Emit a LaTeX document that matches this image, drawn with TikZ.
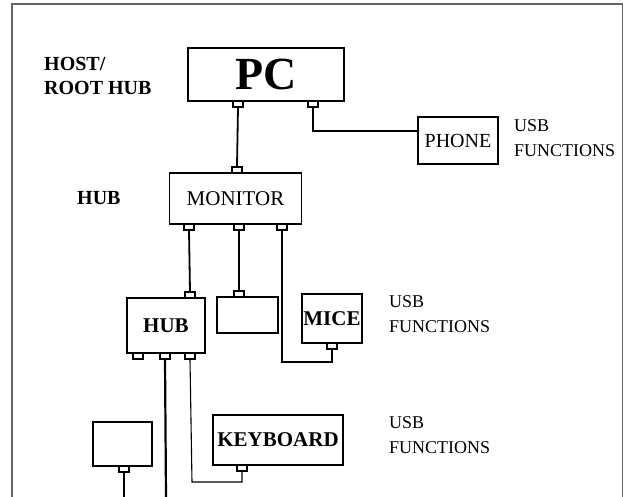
\documentclass[tikz,border=0pt]{standalone}
\usepackage{fontspec}
\setmainfont{Liberation Serif}
\usepackage{tikz}

\begin{document}
\begin{tikzpicture}[x=1pt, y=-1pt, line width=1.8pt,
    box/.style={draw, fill=white, inner sep=0pt, line width=1.9pt},
    port/.style={draw, fill=white, inner sep=0pt, minimum width=10pt, minimum height=6pt, line width=1.3pt},
    lbl/.style={font=\fontsize{20}{24}\selectfont\bfseries, align=left, anchor=west},
    usb/.style={font=\fontsize{18}{25}\selectfont, align=left, anchor=north west}]
  \useasboundingbox (0,0) rectangle (624,497);
  % frame
  \draw[line width=1.2pt, gray!80!black] (12,497) -- (12,4) -- (622.5,4) -- (622.5,497);

  % host
  \node[lbl] (host) at (40,76) {HOST/\\ROOT HUB};
  \node[box, minimum width=156pt, minimum height=53pt, font=\fontsize{46}{46}\selectfont\bfseries] (pc) at (266,74.5) {PC};
  \node[port] (pcA) at (238,104) {};
  \node[port] (pcB) at (313,104) {};

  % phone
  \node[box, minimum width=80pt, minimum height=47pt, font=\fontsize{20}{22}\selectfont] (phone) at (458,140.5) {PHONE};
  \node[usb] (usbA) at (510,115.5) {USB\\FUNCTIONS};
  \draw (pcB.south) |- ([yshift=9.5pt]phone.west);

  % monitor
  \node[lbl] (hubA) at (73,198) {HUB};
  \node[box, minimum width=132pt, minimum height=51pt, font=\fontsize{21}{22}\selectfont] (mon) at (235.5,198.5) {MONITOR};
  \node[port] (monT) at (237,170) {};
  \node[port] (monA) at (189,227) {};
  \node[port] (monB) at (239,227) {};
  \node[port] (monC) at (282,227) {};
  \draw (pcA.south) -- (monT.north);

  % second tier
  \node[box, minimum width=78pt, minimum height=55pt, font=\fontsize{21}{22}\selectfont\bfseries] (hubB) at (166,325.5) {HUB};
  \node[port] (hubT) at (190,295) {};
  \node[port] (hubL) at (138,356) {};
  \node[port] (hubM) at (165,356) {};
  \node[port] (hubR) at (190,356) {};
  \node[box, minimum width=61pt, minimum height=36pt] (dev) at (247.5,315) {};
  \node[port] (devT) at (239,294) {};
  \node[box, minimum width=60pt, minimum height=49pt, font=\fontsize{21}{22}\selectfont\bfseries] (mice) at (332,318.5) {MICE};
  \node[port] (miceB) at (332,346) {};
  \node[usb] (usbB) at (385,291) {USB\\FUNCTIONS};
  \draw (monA.south) -- (hubT.north);
  \draw[line width=1.2pt] (monB.south) -- (devT.north);
  \coordinate (miceC) at (282,362);
  \draw (monC.south) -- (miceC) -| (miceB.south);

  % third tier
  \node[box, minimum width=59pt, minimum height=44pt] (devB) at (122.5,444) {};
  \node[port] (devBB) at (124,469) {};
  \node[box, minimum width=130pt, minimum height=50pt, font=\fontsize{21}{22}\selectfont\bfseries] (kbd) at (278,440) {KEYBOARD};
  \node[port] (kbdB) at (242,468) {};
  \node[usb] (usbC) at (385,412) {USB\\FUNCTIONS};
  \coordinate (endM) at (166,497);
  \coordinate (endL) at (124,497);
  \coordinate (kbdC) at (192,482);
  \draw[line width=2.2pt] (hubM.south) -- (endM);
  \draw (devBB.south) -- (endL);
  \draw[line width=1.1pt] (hubR.south) -- (kbdC) -| (kbdB.south);
\end{tikzpicture}
\end{document}
